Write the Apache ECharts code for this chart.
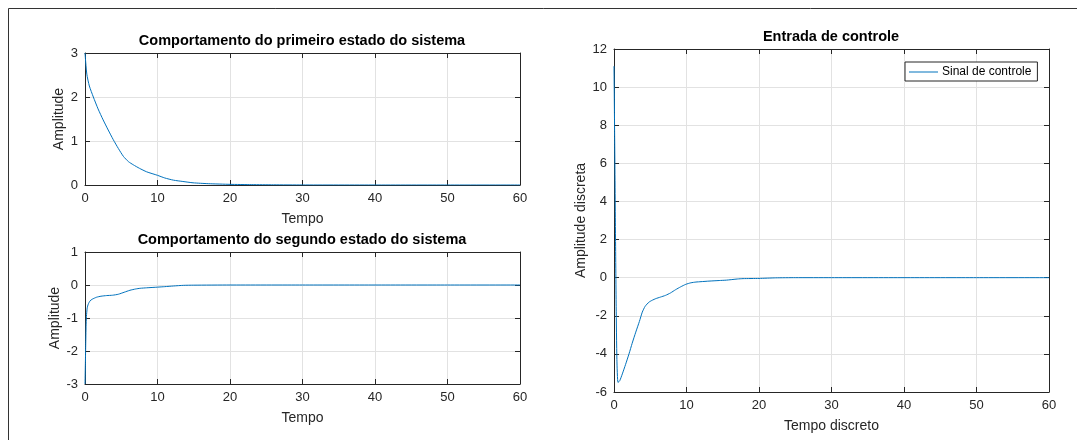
<!DOCTYPE html>
<html>
<head>
<meta charset="utf-8">
<script src="https://cdn.jsdelivr.net/npm/echarts@6/dist/echarts.min.js"></script>
<style>html,body{margin:0;padding:0;background:#fff;}#c{width:1077px;height:440px;}</style>
</head>
<body>
<div id="c"></div>
<script>
// ---- data ----
var xTicks = [0, 10, 20, 30, 40, 50, 60];
var t1 = [0,0.25,0.6,1.15,1.8,2.5,3.2,3.9,4.6,5.3,6,6.65,7.5,8.5,10,11,12.2,13.5,14.9,17,20,23,26,30,40,50,60];
var x1 = [3,2.52,2.25,2.0,1.73,1.48,1.25,1.03,0.83,0.65,0.53,0.46,0.38,0.30,0.22,0.16,0.11,0.08,0.05,0.03,0.015,0.008,0.004,0.001,0,0,0];
var t2 = [0,0.05,0.1,0.15,0.2,0.3,0.45,0.7,1.0,1.6,2.2,3.0,3.8,4.6,5.4,6.2,7.0,7.6,8.5,10,11,12.2,13.6,15,20,30,40,50,60];
var x2 = [-3,-2.4,-1.8,-1.25,-0.95,-0.7,-0.58,-0.48,-0.43,-0.37,-0.34,-0.32,-0.31,-0.28,-0.22,-0.16,-0.12,-0.1,-0.085,-0.065,-0.05,-0.03,-0.01,-0.005,0,0,0,0,0];
var t3 = [0,0.1,0.2,0.3,0.4,0.55,0.8,1.15,1.6,2.07,2.5,3.0,3.5,3.9,4.3,4.84,5.3,5.76,6.4,7.1,7.8,8.5,9.2,9.9,10.6,11.3,12,13.1,14.5,15.5,17,17.8,20,22.3,25,30,40,50,60];
var u3 = [11.1,7,2.5,-1.5,-4.3,-5.5,-5.4,-5.05,-4.55,-4.0,-3.45,-2.86,-2.3,-1.81,-1.5,-1.28,-1.18,-1.1,-1.02,-0.93,-0.8,-0.63,-0.48,-0.35,-0.27,-0.23,-0.21,-0.18,-0.15,-0.13,-0.07,-0.05,-0.04,-0.01,0,0,0,0,0];

function pairs(t, v) { return t.map(function (x, i) { return [x, v[i]]; }); }

var AX = '#262626', GRID = '#e2e2e2', LINE = '#0072BD';
var FONT = '"Liberation Sans", Arial, sans-serif';

function xAxes(gi, name, gap) {
  return [{
    type: 'value', gridIndex: gi, min: 0, max: 60, interval: 10, position: 'bottom',
    name: name, nameLocation: 'middle', nameGap: gap,
    nameTextStyle: { color: AX, fontSize: 14, fontFamily: FONT },
    axisLine: { show: true, onZero: false, lineStyle: { color: AX, width: 1 } },
    axisTick: { show: true, inside: true, length: 5, lineStyle: { color: AX } },
    axisLabel: { color: AX, fontSize: 13, fontFamily: FONT, margin: 7 },
    splitLine: { show: true, lineStyle: { color: GRID, width: 1 } }
  }, {
    type: 'value', gridIndex: gi, min: 0, max: 60, interval: 10, position: 'top',
    axisLine: { show: true, onZero: false, lineStyle: { color: AX, width: 1 } },
    axisTick: { show: true, inside: true, length: 5, lineStyle: { color: AX } },
    axisLabel: { show: false }, splitLine: { show: false }
  }];
}
function yAxes(gi, min, max, iv, name, gap) {
  return [{
    type: 'value', gridIndex: gi, min: min, max: max, interval: iv, position: 'left',
    name: name, nameLocation: 'middle', nameGap: gap, nameRotate: 90,
    nameTextStyle: { color: AX, fontSize: 14, fontFamily: FONT },
    axisLine: { show: true, onZero: false, lineStyle: { color: AX, width: 1 } },
    axisTick: { show: true, inside: true, length: 5, lineStyle: { color: AX } },
    axisLabel: { color: AX, fontSize: 13, fontFamily: FONT, margin: 7 },
    splitLine: { show: true, lineStyle: { color: GRID, width: 1 } }
  }, {
    type: 'value', gridIndex: gi, min: min, max: max, interval: iv, position: 'right',
    axisLine: { show: true, onZero: false, lineStyle: { color: AX, width: 1 } },
    axisTick: { show: true, inside: true, length: 5, lineStyle: { color: AX } },
    axisLabel: { show: false }, splitLine: { show: false }
  }];
}

var chart = echarts.init(document.getElementById('c'), null, { renderer: 'canvas' });
var titleStyle = { color: '#000', fontSize: 14.5, fontWeight: 'bold', fontFamily: FONT };
chart.setOption({
  backgroundColor: '#fff',
  animation: false,
  title: [
    { text: 'Comportamento do primeiro estado do sistema', left: 302, top: 33, textAlign: 'center', textStyle: titleStyle, padding: 0 },
    { text: 'Comportamento do segundo estado do sistema', left: 302, top: 232, textAlign: 'center', textStyle: titleStyle, padding: 0 },
    { text: 'Entrada de controle', left: 831, top: 29, textAlign: 'center', textStyle: titleStyle, padding: 0 }
  ],
  legend: {
    data: ['Sinal de controle'], left: 905, top: 62, orient: 'vertical',
    backgroundColor: '#fff', borderColor: AX, borderWidth: 1, borderRadius: 0,
    padding: [4, 6, 3, 4], itemWidth: 29, itemHeight: 1, icon: 'rect',
    textStyle: { color: '#000', fontSize: 12, fontFamily: FONT, padding: [0, 0, 0, -1] }
  },
  graphic: [{
    type: 'rect', silent: true, z: -1,
    shape: { x: 8.5, y: 8.5, width: 1200, height: 600 },
    style: { fill: null, stroke: '#333', lineWidth: 1 }
  }],
  grid: [
    { left: 85, top: 53, width: 435, height: 132 },
    { left: 85, top: 252, width: 435, height: 132 },
    { left: 614, top: 49, width: 435, height: 343 }
  ],
  xAxis: [].concat(xAxes(0, 'Tempo', 27), xAxes(1, 'Tempo', 27), xAxes(2, 'Tempo discreto', 27)),
  yAxis: [].concat(yAxes(0, 0, 3, 1, 'Amplitude', 19), yAxes(1, -3, 1, 1, 'Amplitude', 19), yAxes(2, -6, 12, 2, 'Amplitude discreta', 25)),
  series: [
    { type: 'line', xAxisIndex: 0, yAxisIndex: 0, data: pairs(t1, x1), showSymbol: false, smooth: 0.2,
      lineStyle: { color: LINE, width: 1 }, itemStyle: { color: LINE } },
    { type: 'line', xAxisIndex: 2, yAxisIndex: 2, data: pairs(t2, x2), showSymbol: false, smooth: 0.2,
      lineStyle: { color: LINE, width: 1 }, itemStyle: { color: LINE } },
    { type: 'line', name: 'Sinal de controle', xAxisIndex: 4, yAxisIndex: 4, data: pairs(t3, u3), showSymbol: false, smooth: 0.2,
      lineStyle: { color: LINE, width: 1 }, itemStyle: { color: LINE } }
  ]
});
</script>
</body>
</html>
